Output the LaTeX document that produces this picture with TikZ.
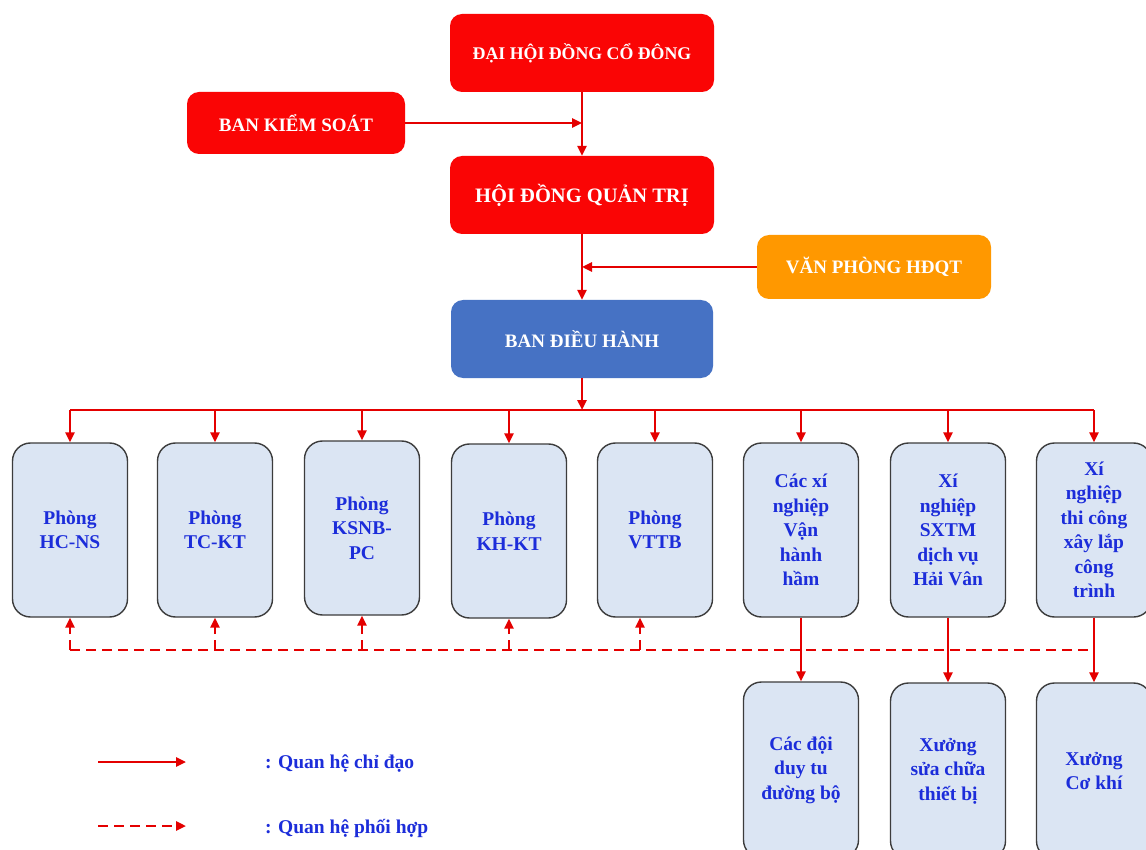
\documentclass[tikz,border=0pt]{standalone}
\usepackage{fontspec}
\setmainfont{Liberation Serif}
\usetikzlibrary{arrows.meta,calc}
\definecolor{topred}{RGB}{250,5,5}
\definecolor{lnred}{RGB}{228,0,0}
\definecolor{vporange}{RGB}{255,152,0}
\definecolor{bdhblue}{RGB}{70,114,196}
\definecolor{boxfill}{RGB}{219,229,243}
\definecolor{boxline}{RGB}{60,60,60}
\definecolor{txtblue}{RGB}{28,45,218}
\tikzset{
  topbox/.style={rectangle, rounded corners=12pt, fill=topred, text=white,
    font=\fontsize{19}{23}\selectfont\bfseries, inner sep=0pt},
  unitbox/.style={rectangle, rounded corners=18pt, fill=boxfill, draw=boxline,
    line width=1.4pt, minimum width=115pt, minimum height=174pt, text=txtblue,
    align=center, font=\fontsize{19.5}{24.5}\selectfont\bfseries, inner sep=0pt},
  lead/.style={draw=lnred, line width=2.4pt, -{Triangle[length=10pt,width=9pt]}},
  leadline/.style={draw=lnred, line width=2.4pt},
  coop/.style={draw=lnred, line width=2.4pt, dash pattern=on 10pt off 6pt},
  cooparrow/.style={coop, -{Triangle[length=10pt,width=9pt]}},
  legtext/.style={anchor=west, text=txtblue, font=\fontsize{19.5}{23}\selectfont\bfseries, inner sep=0pt}
}
\begin{document}
\begin{tikzpicture}[x=1pt,y=-1pt]
\useasboundingbox (0,0) rectangle (1146,850);
\clip (0,0) rectangle (1146,850);
\fill[white] (0,0) rectangle (1146,850);

% top management
\node[topbox, minimum width=264pt, minimum height=78pt, font=\fontsize{17.8}{22}\selectfont\bfseries] (dh) at (582,53) {ĐẠI HỘI ĐỒNG CỔ ĐÔNG};
\node[topbox, minimum width=218pt, minimum height=62pt] (bks) at (296,123) {BAN KIỂM SOÁT};
\node[topbox, minimum width=264pt, minimum height=78pt, font=\fontsize{20.5}{24}\selectfont\bfseries] (hdqt) at (582,195) {HỘI ĐỒNG QUẢN TRỊ};
\node[topbox, fill=vporange, minimum width=234pt, minimum height=64pt] (vp) at (874,267) {VĂN PHÒNG HĐQT};
\node[topbox, fill=bdhblue, minimum width=262pt, minimum height=78pt] (bdh) at (582,339) {BAN ĐIỀU HÀNH};

% departments
\node[unitbox] (b1) at (70,530) {Phòng\\HC-NS};
\node[unitbox] (b2) at (215,530) {Phòng\\TC-KT};
\node[unitbox] (b3) at (362,528) {Phòng\\KSNB-\\PC};
\node[unitbox] (b4) at (509,531) {Phòng\\KH-KT};
\node[unitbox] (b5) at (655,530) {Phòng\\VTTB};
\node[unitbox] (b6) at (801,530) {Các xí\\nghiệp\\Vận\\hành\\hầm};
\node[unitbox] (b7) at (948,530) {Xí\\nghiệp\\SXTM\\dịch vụ\\Hải Vân};
\node[unitbox] (b8) at (1094,530) {Xí\\nghiệp\\thi công\\xây lắp\\công\\trình};

% sub units
\node[unitbox, minimum height=176pt] (s1) at (801,770) {Các đội\\duy tu\\đường bộ};
\node[unitbox, minimum height=176pt] (s2) at (948,771) {Xưởng\\sửa chữa\\thiết bị};
\node[unitbox, minimum height=176pt] (s3) at (1094,771) {Xưởng\\Cơ khí};

% top connectors
\draw[lead] (dh.south) -- (hdqt.north);
\draw[lead] (bks.east) -- (dh.south |- bks.east);
\draw[lead] (hdqt.south) -- (bdh.north);
\draw[lead] (vp.west) -- (hdqt.south |- vp.west);

% bus
\coordinate (bus) at (0,410);
\draw[lead] (bdh.south) -- (bdh.south |- bus);
\draw[leadline] (b1.north |- bus) -- (b8.north |- bus);
\foreach \b in {b1,b2,b3,b4,b5,b6,b7,b8}
  \draw[lead] (\b.north |- bus) -- (\b.north);

% coordination line
\coordinate (dl) at (0,650);
\draw[coop] (b1.south |- dl) -- ([xshift=-4pt]b8.south |- dl);
\foreach \b in {b1,b2,b3,b4}
  \draw[cooparrow] (\b.south |- dl) -- (\b.south);
\draw[cooparrow] ([xshift=-15pt]b5.south |- dl) -- ([xshift=-15pt]b5.south);

% sub connectors
\draw[lead] (b6.south) -- (s1.north);
\draw[lead] (b7.south) -- (s2.north);
\draw[lead] (b8.south) -- (s3.north);

% legend
\coordinate (la1) at (98,762);
\coordinate (lb1) at (186,762);
\coordinate (la2) at (98,826);
\coordinate (lb2) at (186,826);
\draw[lead] (la1) -- (lb1);
\draw[cooparrow] (la2) -- (lb2);
\node[legtext] (lt1) at (265,764) {: Quan hệ chỉ đạo};
\node[legtext] (lt2) at (265,828) {: Quan hệ phối hợp};
\end{tikzpicture}
\end{document}
